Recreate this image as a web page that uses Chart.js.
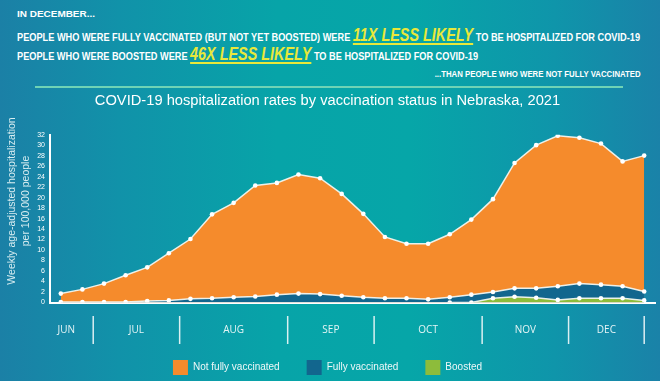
<!DOCTYPE html>
<html>
<head>
<meta charset="utf-8">
<script src="https://cdn.jsdelivr.net/npm/chart.js@4.4.1/dist/chart.umd.min.js"></script>
<style>
  html, body { margin:0; padding:0; width:660px; height:381px; overflow:hidden; }
  body {
    background: linear-gradient(90deg, #1b80a6 0%, #1192a9 18%, #07a4a8 42%, #06a6a8 62%, #0f95aa 84%, #1a82a8 100%);
    position: relative;
    font-family: "Liberation Sans", Arial, sans-serif;
  }
  #wrap { position:absolute; left:0; top:0; width:660px; height:385px; }
  .hd { position:absolute; color:#fff; font-weight:bold; white-space:nowrap; line-height:1; }
  .em { color:#e9e83a; font-style:italic; font-size:18px; text-decoration:underline; text-decoration-thickness:1.5px; text-underline-offset:2px; }
  #rule { position:absolute; left:35px; top:86px; width:588px; height:2px; background:#6fd3b5; }
</style>
</head>
<body>
<div class="hd" id="l1" style="left:17px; top:10px; font-size:9px;">IN DECEMBER...</div>
<div class="hd" id="l2" style="left:17px; top:26px; font-size:11.5px;">PEOPLE WHO WERE FULLY VACCINATED (BUT NOT YET BOOSTED) WERE <span class="em">11X LESS LIKELY</span> TO BE HOSPITALIZED FOR COVID-19</div>
<div class="hd" id="l3" style="left:17px; top:45px; font-size:11.5px;">PEOPLE WHO WERE BOOSTED WERE <span class="em">46X LESS LIKELY</span> TO BE HOSPITALIZED FOR COVID-19</div>
<div class="hd" id="l4" style="right:19px; top:70px; font-size:9px;">...THAN PEOPLE WHO WERE NOT FULLY VACCINATED</div>
<div id="rule"></div>
<div id="wrap"><canvas id="c" width="660" height="385"></canvas></div>
<script>
// ---- data ----
const months = ['JUN', 'JUL', 'AUG', 'SEP', 'OCT', 'NOV', 'DEC'];
const weeksPerMonth = [2, 4, 5, 4, 5, 4, 4];
const yTicks = [0, 2, 4, 6, 8, 10, 12, 14, 16, 18, 20, 22, 24, 26, 28, 30, 32];
const notFullyVaccinated = [1.7, 2.5, 3.6, 5.2, 6.7, 9.4, 12.1, 16.8, 19.0, 22.3, 22.8, 24.4, 23.7, 20.7,
                            16.9, 12.5, 11.2, 11.2, 13.0, 15.8, 19.7, 26.6, 30.0, 31.8, 31.4, 30.3, 26.9, 28.0];
const fullyVaccinated = [0.1, 0.1, 0.1, 0.1, 0.3, 0.4, 0.7, 0.8, 1.0, 1.15, 1.5, 1.7, 1.6, 1.3,
                         1.0, 0.8, 0.8, 0.6, 1.0, 1.5, 2.0, 2.7, 2.7, 3.1, 3.6, 3.4, 3.1, 2.1];
const boosted = [null, null, null, null, null, null, null, null, null, null, null, null, null, null,
                 null, null, null, null, 0, 0, 0.8, 1.1, 0.9, 0.5, 0.8, 0.8, 0.8, 0.4];
const seriesNames = ['Not fully vaccinated', 'Fully vaccinated', 'Boosted'];
const yTitle = ['Weekly age-adjusted hospitalization', 'per 100,000 people'];
const chartTitle = 'COVID-19 hospitalization rates by vaccination status in Nebraska, 2021';

// condense header lines to their widths in the reference
function fitWidth(id, w, right) {
  const el = document.getElementById(id);
  const cur = el.getBoundingClientRect().width;
  el.style.transformOrigin = right ? 'right center' : 'left center';
  el.style.transform = 'scaleX(' + (w / cur) + ')';
}
fitWidth('l1', 78);
fitWidth('l2', 623);
fitWidth('l3', 461);
fitWidth('l4', 206, true);

// week labels built from months
const weekLabels = [];
months.forEach((m, mi) => { for (let w = 1; w <= weeksPerMonth[mi]; w++) weekLabels.push(m + ' wk ' + w); });

const ds = (label, data, color, order) => ({
  label, data, order,
  backgroundColor: color,
  borderColor: 'rgba(242,246,240,0.95)',
  borderWidth: 1.5,
  fill: 'origin',
  tension: 0,
  pointRadius: 2.3,
  pointBackgroundColor: '#ffffff',
  pointBorderWidth: 0,
  spanGaps: false
});

const monthPlugin = {
  id: 'months',
  afterDraw(chart) {
    const ctx = chart.ctx;
    const x = chart.scales.x;
    const bounds = [];
    let acc = 0;
    weeksPerMonth.forEach((n, i) => {
      acc += n;
      bounds.push(i === weeksPerMonth.length - 1 ? acc - 1 : acc - 0.5);
    });
    ctx.save();
    ctx.strokeStyle = 'rgba(255,255,255,0.85)';
    ctx.lineWidth = 1.5;
    ctx.fillStyle = 'rgba(240,250,250,0.95)';
    ctx.font = '10px "Open Sans", "Liberation Sans", sans-serif';
    ctx.textAlign = 'center';
    ctx.textBaseline = 'middle';
    let prev = x.getPixelForValue(-1);
    bounds.forEach((b, i) => {
      const px = x.getPixelForValue(b);
      ctx.beginPath();
      ctx.moveTo(px, 316); ctx.lineTo(px, 344);
      ctx.stroke();
      ctx.fillText(months[i], (prev + px) / 2, 330);
      prev = px;
    });
    // y-axis title
    ctx.fillStyle = 'rgba(225,242,244,0.95)';
    ctx.font = '10.5px "Liberation Sans", Arial, sans-serif';
    [12, 26].forEach((cx, i) => {
      ctx.save();
      ctx.translate(cx, 201);
      ctx.rotate(-Math.PI / 2);
      ctx.fillText(yTitle[i], 0, 0);
      ctx.restore();
    });
    ctx.restore();
  }
};

new Chart(document.getElementById('c'), {
  type: 'line',
  data: {
    labels: weekLabels,
    datasets: [
      ds(seriesNames[0], notFullyVaccinated, '#f58b2c', 3),
      ds(seriesNames[1], fullyVaccinated, '#12668e', 2),
      ds(seriesNames[2], boosted, '#8dbc3b', 1)
    ]
  },
  options: {
    responsive: false,
    animation: false,
    layout: { padding: { left: 0, right: 5, top: 0, bottom: 0 } },
    plugins: {
      title: {
        display: true,
        text: chartTitle,
        color: '#ffffff',
        font: { family: '"Liberation Sans", Arial, sans-serif', size: 14.7, weight: 'normal' },
        padding: { top: 92, bottom: 25 }
      },
      legend: {
        position: 'bottom',
        labels: {
          color: '#eef8f8',
          font: { family: '"Liberation Sans", Arial, sans-serif', size: 10 },
          boxWidth: 15, boxHeight: 15,
          padding: 27,
          generateLabels: (chart) => Chart.defaults.plugins.legend.labels.generateLabels(chart)
            .map(l => Object.assign(l, { strokeStyle: l.fillStyle, lineWidth: 0 })),
          sort: (a, b) => a.datasetIndex - b.datasetIndex
        }
      },
      tooltip: { enabled: false }
    },
    scales: {
      x: {
        type: 'category',
        offset: true,
        grid: { display: false, drawTicks: false },
        border: { display: true, color: '#ffffff', width: 2 },
        ticks: { display: false },
        afterFit(s) { s.height = 30.5; }
      },
      y: {
        min: 0, max: 32,
        grid: { display: false, drawTicks: false },
        border: { display: true, color: '#ffffff', width: 2 },
        afterBuildTicks(s) { s.ticks = yTicks.map(v => ({ value: v })); },
        ticks: {
          color: '#ffffff',
          font: { family: '"Liberation Sans", Arial, sans-serif', size: 7 },
          padding: 5,
          autoSkip: false
        },
        afterFit(s) { s.width = 50; }
      }
    }
  },
  plugins: [monthPlugin]
});
</script>
</body>
</html>
